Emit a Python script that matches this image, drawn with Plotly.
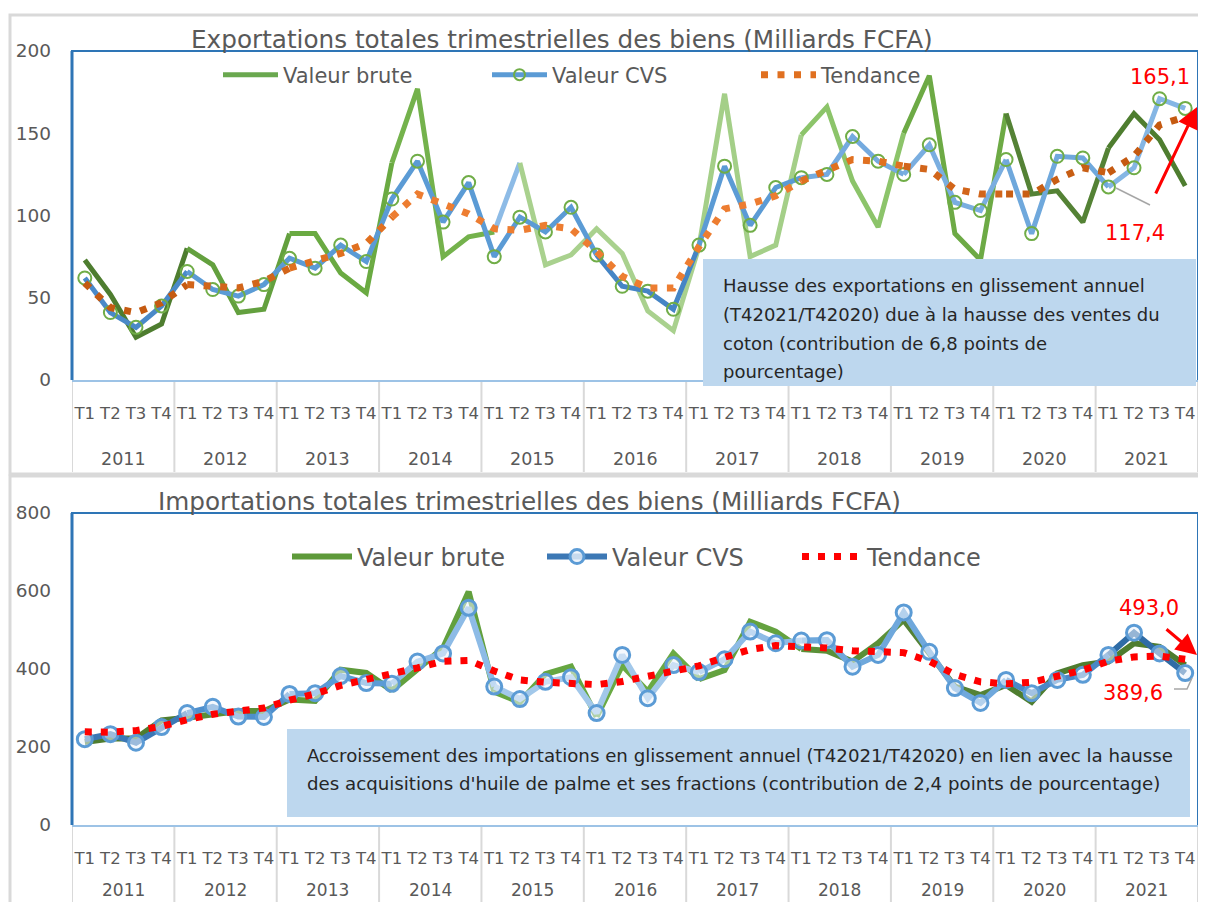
import plotly.graph_objects as go

# ---------------- data ----------------
years = ["2011", "2012", "2013", "2014", "2015", "2016", "2017", "2018", "2019", "2020", "2021"]
quarters = ["T1", "T2", "T3", "T4"]

exp_brute = [73, 52, 26, 34, 80, 70, 41, 43, 89, 89, 65, 53,
             132, 177, 75, 87, 90, 132, 70, 76, 92, 77, 42, 30,
             81, 174, 75, 82, 149, 166, 121, 93, 150, 185, 89, 73,
             162, 113, 115, 96, 141, 162, 146, 118]
exp_cvs = [62, 41, 32, 45, 66, 55, 51, 58, 74, 68, 82, 72,
           110, 133, 96, 120, 75, 99, 90, 105, 76, 57, 54, 43,
           82, 130, 94, 117, 123, 125, 148, 133, 125, 143, 108, 103,
           134, 89, 136, 135, 117.4, 129, 171, 165.1]
exp_trend = [59, 44, 41, 47, 58, 57, 56, 60, 68, 72, 77, 83,
             99, 113, 107, 101, 92, 91, 94, 92, 78, 63, 56, 56,
             81, 104, 107, 112, 121, 127, 134, 133, 130, 128, 116, 113,
             113, 113, 122, 129, 126, 136, 155, 160]

imp_brute = [213, 222, 222, 268, 275, 285, 292, 292, 322, 318, 398, 390,
             345, 402, 454, 598, 342, 315, 387, 406, 278, 410, 342, 440,
             374, 397, 521, 496, 451, 447, 419, 466, 526, 440, 355, 333,
             359, 316, 389, 410, 419, 466, 457, 410]
imp_cvs = [220, 233, 211, 251, 287, 303, 278, 277, 336, 338, 382, 364,
           362, 419, 440, 557, 355, 323, 367, 379, 287, 436, 325, 410,
           392, 425, 496, 466, 473, 474, 406, 436, 545, 444, 351, 313,
           372, 338, 372, 385, 436, 493.0, 440, 389.6]
imp_trend = [239, 238, 242, 253, 270, 284, 292, 300, 320, 336, 358, 372,
             385, 403, 420, 422, 395, 372, 366, 361, 360, 368, 380, 393,
             408, 430, 450, 460, 458, 454, 447, 446, 442, 420, 386, 367,
             362, 366, 380, 397, 420, 431, 433, 425]

titles = ["Exportations totales trimestrielles des biens (Milliards FCFA)",
          "Importations totales trimestrielles des biens (Milliards FCFA)"]
series_names = ["Valeur brute", "Valeur CVS", "Tendance"]
box_top = ["Hausse des exportations en glissement annuel",
           "(T42021/T42020) due à la hausse des ventes du",
           "coton (contribution de 6,8 points de",
           "pourcentage)"]
box_bottom = ["Accroissement des importations en glissement annuel (T42021/T42020) en lien avec la hausse",
              "des acquisitions d'huile de palme et ses fractions (contribution de 2,4 points de pourcentage)"]
labels_top = ["165,1", "117,4"]
labels_bottom = ["493,0", "389,6"]

# ---------------- styling helpers ----------------
# The page body has an 8px default margin: the figure is placed at (8, 8);
# keep the page free of overflow (8px margin on every side).
OFF = 8
W, H = 1206 - 2 * OFF, 910 - 2 * OFF
FONT = "DejaVu Sans"
GREY = "#595959"


def px(x):
    return min(1.0, max(0.0, (x - OFF) / W))


def py(y):
    return 1 - (y - OFF) / H


cats = [f"{y} {q}" for y in years for q in quarters]
qlabels = [q for y in years for q in quarters]

fig = go.Figure()


def add_segments(values, year_colors, width, xa, ya, dash="solid", overrides=None):
    """Draw a series as runs of segments, each run with its own colour (gradient look)."""
    overrides = overrides or {}
    n = len(values)
    seg_colors = [overrides.get(j, year_colors[j // 4]) for j in range(n - 1)]
    runs = []
    a = 0
    for j in range(1, n - 1):
        if seg_colors[j] != seg_colors[a]:
            runs.append((a, j - 1))
            a = j
    runs.append((a, n - 2))
    for a, b in runs:
        fig.add_trace(go.Scatter(
            x=cats[a:b + 2], y=values[a:b + 2],
            mode="lines", line=dict(color=seg_colors[a], width=width, dash=dash),
            xaxis=xa, yaxis=ya, showlegend=False, hoverinfo="skip"))


# ---- top chart (exports) ----
brute_top_cols = ["#4E7D2F", "#63A03E", "#6AAA42", "#74B24C", "#A9D18E", "#A9D18E",
                  "#A4CF88", "#8CC46A", "#6DAA45", "#548235", "#4E7D2F"]
cvs_top_cols = ["#4A89C8", "#5B9BD5", "#5B9BD5", "#5B9BD5", "#5B9BD5", "#4585C5",
                "#5B9BD5", "#74AADF", "#7AAEE0", "#6FA8DC", "#85B6E4"]
trend_top_cols = ["#C55A11", "#D2651A", "#E07020", "#ED7D31", "#ED7D31", "#ED7D31",
                  "#ED7D31", "#E07020", "#D2651A", "#C85E14", "#C55A11"]

add_segments(exp_brute, brute_top_cols, 5, "x", "y", overrides={16: "#8DBBE6"})
add_segments(exp_cvs, cvs_top_cols, 5, "x", "y")
fig.add_trace(go.Scatter(x=cats, y=exp_cvs, mode="markers",
                         marker=dict(symbol="circle-open", size=13, color="#70AD47", line=dict(width=2)),
                         xaxis="x", yaxis="y", showlegend=False, hoverinfo="skip"))
add_segments(exp_trend, trend_top_cols, 7, "x", "y", dash="7px,9.5px")

# ---- bottom chart (imports) ----
brute_bot_cols = ["#4E7D2F", "#5A8F37", "#5E9A3A", "#62A03E", "#66A641", "#6AAA44",
                  "#64A23F", "#5A9038", "#548235", "#4E7D2F", "#4E7D2F"]
cvs_bot_cols = ["#3C78B5", "#4F8FCC", "#5B9BD5", "#8DBBE6", "#A2C8EA", "#A2C8EA",
                "#8DBBE6", "#6FA8DC", "#6FA8DC", "#4A88C6", "#2F6CA6"]
add_segments(imp_brute, brute_bot_cols, 6, "x2", "y2")
add_segments(imp_cvs, cvs_bot_cols, 6, "x2", "y2")
fig.add_trace(go.Scatter(x=cats, y=imp_cvs, mode="markers",
                         marker=dict(symbol="circle", size=15, color="rgba(235,243,251,0.55)",
                                     line=dict(width=3, color="#5B9BD5")),
                         xaxis="x2", yaxis="y2", showlegend=False, hoverinfo="skip"))
add_segments(imp_trend, ["#FF0000"] * 11, 7, "x2", "y2", dash="7px,9px")

# ---- legend-only traces ----
leg_x = [cats[0]]
fig.add_trace(go.Scatter(x=leg_x, y=[None], mode="lines", name=series_names[0],
                         line=dict(color="#6AA84F", width=5), xaxis="x", yaxis="y", legend="legend"))
fig.add_trace(go.Scatter(x=leg_x, y=[None], mode="lines+markers", name=series_names[1],
                         line=dict(color="#5B9BD5", width=5),
                         marker=dict(symbol="circle-open", size=11, color="#70AD47", line=dict(width=2)),
                         xaxis="x", yaxis="y", legend="legend"))
fig.add_trace(go.Scatter(x=leg_x, y=[None], mode="lines", name=series_names[2],
                         line=dict(color="#E07020", width=7, dash="7px,9.5px"),
                         xaxis="x", yaxis="y", legend="legend"))
fig.add_trace(go.Scatter(x=leg_x, y=[None], mode="lines", name=series_names[0],
                         line=dict(color="#5E9A3A", width=6), xaxis="x2", yaxis="y2", legend="legend2"))
fig.add_trace(go.Scatter(x=leg_x, y=[None], mode="lines+markers", name=series_names[1],
                         line=dict(color="#3C78B5", width=6),
                         marker=dict(symbol="circle", size=14, color="rgba(235,243,251,0.8)",
                                     line=dict(width=3, color="#5B9BD5")),
                         xaxis="x2", yaxis="y2", legend="legend2"))
fig.add_trace(go.Scatter(x=leg_x, y=[None], mode="lines", name=series_names[2],
                         line=dict(color="#FF0000", width=7, dash="7px,9px"),
                         xaxis="x2", yaxis="y2", legend="legend2"))

# ---------------- layout ----------------
xax = dict(type="category", categoryorder="array", categoryarray=cats,
           range=[-0.5, len(cats) - 0.5], autorange=False,
           tickmode="array", tickvals=cats, ticktext=qlabels,
           showline=True, linecolor="#9DC3E6", linewidth=1.5,
           ticks="", tickangle=0, tickfont=dict(family=FONT, size=16.5, color=GREY),
           ticklabelstandoff=17, showgrid=False, zeroline=False, automargin=False)
yax = dict(showgrid=False, zeroline=False, showline=False, ticks="", automargin=False,
           tickfont=dict(family=FONT, size=18.5, color=GREY), ticklabelstandoff=20)

P1 = (72, 1204, 51, 380)   # left, right, top, bottom (px of the page)
P2 = (72, 1204, 513, 825)

fig.update_layout(
    width=W, height=H, autosize=False,
    margin=dict(l=0, r=0, t=0, b=0, autoexpand=False),
    paper_bgcolor="white", plot_bgcolor="white",
    font=dict(family=FONT, color=GREY),
    xaxis=dict(xax, domain=[px(P1[0]), px(P1[1])], anchor="y"),
    yaxis=dict(yax, domain=[py(P1[3]), py(P1[2])], range=[0, 200], dtick=50, anchor="x"),
    xaxis2=dict(xax, domain=[px(P2[0]), px(P2[1])], anchor="y2"),
    yaxis2=dict(yax, domain=[py(P2[3]), py(P2[2])], range=[0, 800], dtick=200, anchor="x2"),
    legend=dict(orientation="h", x=px(218), y=py(75), xanchor="left", yanchor="middle",
                font=dict(family=FONT, size=21, color=GREY), bgcolor="rgba(0,0,0,0)",
                itemwidth=55, entrywidth=199, entrywidthmode="pixels", traceorder="normal"),
    legend2=dict(orientation="h", x=px(287), y=py(557), xanchor="left", yanchor="middle",
                 font=dict(family=FONT, size=24, color=GREY), bgcolor="rgba(0,0,0,0)",
                 itemwidth=60, entrywidth=180, entrywidthmode="pixels", traceorder="normal"),
)

shapes = []
# outer grey frames
shapes.append(dict(type="rect", xref="paper", yref="paper", x0=px(10), x1=1.02, y0=py(474), y1=py(15),
                   line=dict(color="#D9D9D9", width=3), layer="below"))
shapes.append(dict(type="rect", xref="paper", yref="paper", x0=px(10), x1=1.02, y0=py(930), y1=py(476),
                   line=dict(color="#D9D9D9", width=3), layer="below"))
# year dividers under each x axis (between category groups)
for xa, (l, r, t, b), bottom in (("x", P1, 472), ("x2", P2, 912)):
    for k in range(len(years) + 1):
        shapes.append(dict(type="line", xref=xa, yref="paper", x0=4 * k - 0.5, x1=4 * k - 0.5,
                           y0=py(b), y1=py(bottom), line=dict(color="#D9D9D9", width=2), layer="below"))
# blue plot frames (left, top, right)
for (l, r, t, b) in (P1, P2):
    shapes.append(dict(type="path", xref="paper", yref="paper",
                       path=f"M{px(l)},{py(b)} L{px(l)},{py(t)} L{px(r)},{py(t)} L{px(r)},{py(b)}",
                       line=dict(color="#2E75B6", width=2)))
    shapes.append(dict(type="line", xref="paper", yref="paper", x0=px(l), x1=px(l), y0=py(b), y1=py(t),
                       line=dict(color="#2E75B6", width=3)))
# text boxes
shapes.append(dict(type="rect", xref="paper", yref="paper", x0=px(703), x1=px(1196), y0=py(386), y1=py(259),
                   fillcolor="#BDD7EE", line=dict(width=0)))
shapes.append(dict(type="rect", xref="paper", yref="paper", x0=px(287), x1=px(1190), y0=py(817), y1=py(729),
                   fillcolor="#BDD7EE", line=dict(width=0)))
# grey leader lines
shapes.append(dict(type="line", xref="paper", yref="paper", x0=px(1116), y0=py(188), x1=px(1150), y1=py(205),
                   line=dict(color="#A6A6A6", width=1.5)))
shapes.append(dict(type="path", xref="paper", yref="paper",
                   path=f"M{px(1174)},{py(689)} L{px(1187)},{py(689)} L{px(1192)},{py(678)}",
                   line=dict(color="#A6A6A6", width=1.5)))

ann = []
# year labels centred under each group of four quarters
for xa, ypos, fs in (("x", 459, 17.5), ("x2", 890, 17)):
    for k, yr in enumerate(years):
        ann.append(dict(text=yr, x=4 * k + 1.5, xref=xa, y=py(ypos), yref="paper", showarrow=False,
                        font=dict(family=FONT, size=fs, color=GREY), xanchor="center", yanchor="middle"))
ann.append(dict(text=titles[0], x=px(562), y=py(40), xref="paper", yref="paper", showarrow=False,
                font=dict(family=FONT, size=24.7, color=GREY), xanchor="center", yanchor="middle"))
ann.append(dict(text=titles[1], x=px(529), y=py(501), xref="paper", yref="paper", showarrow=False,
                font=dict(family=FONT, size=24.7, color=GREY), xanchor="center", yanchor="middle"))
for k, line in enumerate(box_top):
    ann.append(dict(text=line, x=px(721), y=py(285 + 29 * k), xref="paper", yref="paper", showarrow=False,
                    font=dict(family=FONT, size=18, color="#262626"), xanchor="left", yanchor="middle"))
for k, line in enumerate(box_bottom):
    ann.append(dict(text=line, x=px(305), y=py(755 + 28 * k), xref="paper", yref="paper", showarrow=False,
                    font=dict(family=FONT, size=18.2, color="#262626"), xanchor="left", yanchor="middle"))
red = dict(family=FONT, size=21, color="#FF0000")
for txt, (xx, yy) in ((labels_top[0], (1160, 77)), (labels_top[1], (1135, 233)),
                      (labels_bottom[0], (1149, 608)), (labels_bottom[1], (1133, 693))):
    ann.append(dict(text=txt, x=px(xx), y=py(yy), xref="paper", yref="paper", showarrow=False,
                    font=red, xanchor="center", yanchor="middle"))
# red arrows (tail offsets in pixels)
ann.append(dict(text="", x=px(1197), y=py(107), ax=-42, ay=88, xref="paper", yref="paper",
                axref="pixel", ayref="pixel", showarrow=True, arrowhead=2, arrowsize=1.4,
                arrowwidth=3, arrowcolor="#FF0000"))
ann.append(dict(text="", x=px(1197), y=py(655), ax=-32, ay=-27, xref="paper", yref="paper",
                axref="pixel", ayref="pixel", showarrow=True, arrowhead=2, arrowsize=1.4,
                arrowwidth=3, arrowcolor="#FF0000"))

fig.update_layout(shapes=shapes, annotations=ann)

fig.write_html("out.html")
